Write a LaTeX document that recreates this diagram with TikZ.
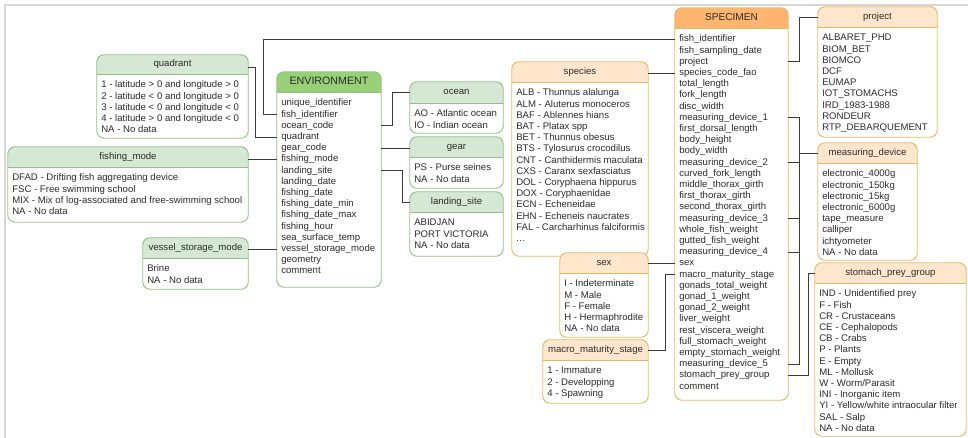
\documentclass[tikz,border=0pt]{standalone}
\usepackage{fontspec}
\setmainfont{Liberation Sans}
\usetikzlibrary{fit}
\definecolor{hgrn}{HTML}{D5E8D4}
\definecolor{hgrnB}{HTML}{97D077}
\definecolor{horg}{HTML}{FFE6CC}
\definecolor{horgB}{HTML}{FFB570}
\definecolor{bgrn}{HTML}{93BF85}
\definecolor{borg}{HTML}{E0BA62}
\definecolor{txtcol}{HTML}{2B2B2B}
\definecolor{conncol}{HTML}{3A3A3A}
\definecolor{framecol}{HTML}{D6D6D6}
\tikzset{
  hdr-grn/.style={fill=hgrn}, hdr-grnB/.style={fill=hgrnB},
  hdr-org/.style={fill=horg}, hdr-orgB/.style={fill=horgB},
  bdr-grn/.style={draw=bgrn, line width=0.7pt}, bdr-grnB/.style={draw=bgrn, line width=0.7pt},
  bdr-org/.style={draw=borg, line width=0.7pt}, bdr-orgB/.style={draw=borg, line width=0.7pt},
  field/.style={font=\fontsize{7.2}{8.4}\selectfont, text=txtcol, inner sep=0pt, text height=5.2pt, text depth=1.5pt},
  ttl-grn/.style={field}, ttl-org/.style={field},
  ttl-grnB/.style={field, font=\fontsize{8}{9}\selectfont},
  ttl-orgB/.style={field, font=\fontsize{7.6}{9}\selectfont},
  conn/.style={draw=conncol, line width=0.7pt},
}
\newcommand{\ddd}{.\kern0.4pt.\kern0.4pt.}
% #1 id, #2 x1, #3 y1, #4 x2, #5 header bottom, #6 y2, #7 kind, #8 title, #9 lines
\newcommand{\erbox}[9]{%
  \node[fit={(#2,#3) (#4,#6)}, inner sep=0pt, fill=white, rounded corners=5.5pt] (#1box) {};
  \node[fit={(#2,#3) (#4,#5)}, inner sep=0pt] (#1H) {};
  \begin{scope}
    \clip[rounded corners=5.5pt] (#1box.south west) rectangle (#1box.north east);
    \fill[hdr-#7] (#1box.north west) rectangle (#1H.south east);
  \end{scope}
  \draw[bdr-#7] (#1H.south west) -- (#1H.south east);
  \draw[bdr-#7, rounded corners=5.5pt] (#1box.south west) rectangle (#1box.north east);
  \node[ttl-#7] (#1T) at (#1H.center) {#8};
  \foreach \t [count=\i] in {#9} {
    \node[field, anchor=west] (#1-\i) at ({#2+4}, {#5+11.5+(\i-1)*11.2}) {\t};
  }
}
\begin{document}
\begin{tikzpicture}[x=0.75pt,y=-0.75pt]
\useasboundingbox (0,0) rectangle (968,438);
\draw[framecol, line width=0.8pt] (5,438) -- (5,5) -- (968,5);

\erbox{quad}{97}{55}{248}{74}{138}{grn}{quadrant}{1 - latitude > 0 and longitude > 0, 2 - latitude < 0 and longitude > 0, 3 - latitude < 0 and longitude < 0, 4 - latitude > 0 and longitude < 0, NA - No data}
\erbox{fish}{8}{147}{248}{167}{222}{grn}{fishing\_mode}{DFAD - Drifting fish aggregating device, FSC - Free swimming school, MIX - Mix of log-associated and free-swimming school, NA - No data}
\erbox{ves}{143}{238}{248}{258}{289}{grn}{vessel\_storage\_mode}{Brine, NA - No data}
\erbox{env}{277}{72}{381}{92}{287}{grnB}{ENVIRONMENT}{unique\_identifier, fish\_identifier, ocean\_code, quadrant, gear\_code, fishing\_mode, landing\_site, landing\_date, fishing\_date, fishing\_date\_min, fishing\_date\_max, fishing\_hour, sea\_surface\_temp, vessel\_storage\_mode, geometry, comment}
\erbox{ocean}{410}{82}{503}{103}{133}{grn}{ocean}{AO - Atlantic ocean, IO - Indian ocean}
\erbox{gear}{410}{137}{503}{157}{188}{grn}{gear}{PS - Purse seines, NA - No data}
\erbox{land}{410}{192}{503}{212}{256}{grn}{landing\_site}{ABIDJAN, PORT VICTORIA, NA - No data}
\erbox{spp}{512}{62}{648}{82}{256}{org}{species}{ALB - Thunnus alalunga, ALM - Aluterus monoceros, BAF - Ablennes hians, BAT - Platax spp, BET - Thunnus obesus, BTS - Tylosurus crocodilus, CNT - Canthidermis maculata, CXS - Caranx sexfasciatus, DOL - Coryphaena hippurus, DOX - Coryphaenidae, ECN - Echeneidae, EHN - Echeneis naucrates, FAL - Carcharhinus falciformis, \ddd}
\erbox{sex}{560}{253}{648}{273}{337}{org}{sex}{I - Indeterminate, M - Male, F - Female, H - Hermaphrodite, NA - No data}
\erbox{mac}{543}{340}{648}{360}{403}{org}{macro\_maturity\_stage}{1 - Immature, 2 - Developping, 4 - Spawning}
\erbox{spec}{675}{8}{788}{28}{400}{orgB}{SPECIMEN}{fish\_identifier, fish\_sampling\_date, project, species\_code\_fao, total\_length, fork\_length, disc\_width, measuring\_device\_1, first\_dorsal\_length, body\_height, body\_width, measuring\_device\_2, curved\_fork\_length, middle\_thorax\_girth, first\_thorax\_girth, second\_thorax\_girth, measuring\_device\_3, whole\_fish\_weight, gutted\_fish\_weight, measuring\_device\_4, sex, macro\_maturity\_stage, gonads\_total\_weight, gonad\_1\_weight, gonad\_2\_weight, liver\_weight, rest\_viscera\_weight, full\_stomach\_weight, empty\_stomach\_weight, measuring\_device\_5, stomach\_prey\_group, comment}
\erbox{proj}{818}{7}{937}{27}{137}{org}{project}{ALBARET\_PHD, BIOM\_BET, BIOMCO, DCF, EUMAP, IOT\_STOMACHS, IRD\_1983-1988, RONDEUR, RTP\_DEBARQUEMENT}
\erbox{meas}{818}{143}{917}{163}{260}{org}{measuring\_device}{electronic\_4000g, electronic\_150kg, electronic\_15kg, electronic\_6000g, tape\_measure, calliper, ichtyometer, NA - No data}
\erbox{stom}{815}{263}{966}{283}{436}{org}{stomach\_prey\_group}{IND - Unidentified prey, F - Fish, CR - Crustaceans, CE - Cephalopods, CB - Crabs, P - Plants, E - Empty, ML - Mollusk, W - Worm/Parasit, INI - Inorganic item, YI - Yellow/white intraocular filter, SAL - Salp, NA - No data}

% connector columns
\coordinate (xf) at (263,0);
\coordinate (xq) at (255,0);
\coordinate (xe1) at (392,0);
\coordinate (xe2) at (402,0);
\coordinate (xm) at (665,0);
\coordinate (xr) at (799,0);
\coordinate (xs) at (808,0);

\draw[conn] (specbox.west |- spec-1) -| (xf |- env-2) -- (envbox.west |- env-2);
\draw[conn] ([yshift=-2.6pt]quadH.east) -| (xq |- env-4) -- (envbox.west |- env-4);
\draw[conn] (fishbox.east |- env-6) -- (envbox.west |- env-6);
\draw[conn] (vesbox.east |- env-14) -- (envbox.west |- env-14);
\draw[conn] (envbox.east |- env-3) -| (xe1 |- oceanH) -- (oceanH.west);
\draw[conn] (envbox.east |- env-5) -- (gearbox.west |- env-5);
\draw[conn] (envbox.east |- env-7) -| (xe2 |- landH) -- (landH.west);
\draw[conn] (sppbox.east |- spec-4) -- (specbox.west |- spec-4);
\draw[conn] (sexbox.east |- spec-21) -- (specbox.west |- spec-21);
\draw[conn] (macH.east) -| (xm |- spec-22) -- (specbox.west |- spec-22);
\draw[conn] (specbox.east |- spec-3) -| (xr |- projH) -- (projH.west);
\foreach \k in {8,12,17,20,30} {
  \draw[conn] (specbox.east |- spec-\k) -| (xr |- measH) -- (measH.west);
}
\draw[conn] (specbox.east |- spec-31) -| (xs |- stomH) -- (stomH.west);
\end{tikzpicture}
\end{document}
